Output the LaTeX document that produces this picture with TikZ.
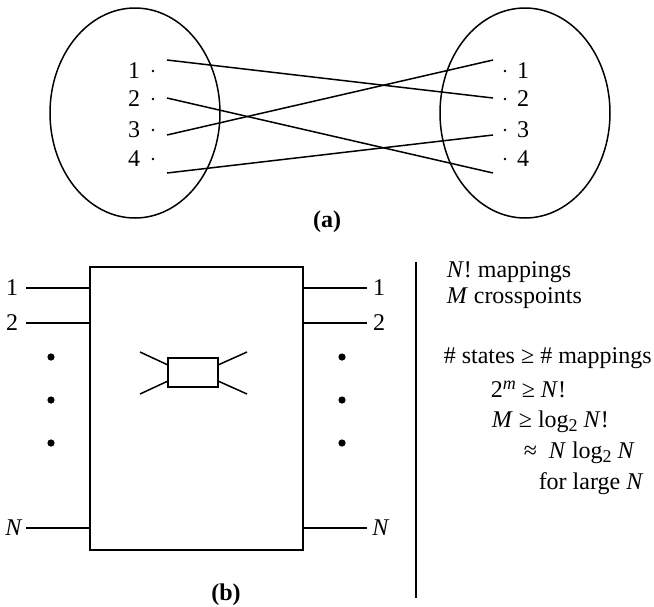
\documentclass[tikz,border=0pt]{standalone}
\usepackage{fontspec}
\setmainfont{Liberation Serif}
\usetikzlibrary{shapes.geometric}

\newcommand{\lowtwo}{\raisebox{-0.45ex}{\fontsize{9}{10}\selectfont 2}}
\newcommand{\highm}{\raisebox{0.7ex}{\fontsize{9}{10}\selectfont\textit{m}}}

\begin{document}
\begin{tikzpicture}[
    x=0.5pt, y=-0.5pt,
    line width=0.75pt,
    font=\fontsize{12}{14}\selectfont,
    setoval/.style={draw,ellipse,inner sep=0pt,minimum width=85pt,minimum height=105pt},
    pdot/.style={circle,fill,inner sep=0pt,minimum size=1.4pt},
    bigdot/.style={circle,fill,inner sep=0pt,minimum size=3.6pt},
    netbox/.style={draw,rectangle,inner sep=0pt,minimum width=106.5pt,minimum height=141.5pt},
    xpbox/.style={draw,rectangle,inner sep=0pt,minimum width=25pt,minimum height=14.5pt},
    lbl/.style={inner sep=0pt},
    eqn/.style={inner sep=0pt,anchor=base west},
    caption/.style={inner sep=0pt,font=\fontsize{12}{14}\selectfont\bfseries},
  ]
  \useasboundingbox (0,0) rectangle (654,606);

  % --- (a): two sets and a mapping ---
  \node[setoval] (src) at (135,113) {};
  \node[setoval] (dst) at (525,113) {};
  \foreach \i/\y in {1/71,2/99,3/130,4/159} {
    \node[lbl] (a\i) at (134,\y) {\i};
    \node[pdot] (ad\i) at (153,\y) {};
    \node[pdot] (bd\i) at (505,\y) {};
    \node[lbl] (b\i) at (523,\y) {\i};
  }
  \foreach \i/\y in {1/60,2/98,3/135,4/173} {
    \coordinate (p\i) at (167,\y);
    \coordinate (q\i) at (493,\y);
  }
  \draw (p1) -- (q2);
  \draw (p2) -- (q4);
  \draw (p3) -- (q1);
  \draw (p4) -- (q3);
  \node[caption] (capa) at (327,222) {(a)};

  % --- (b): N x N switch ---
  \node[netbox] (net) at (196.5,408.5) {};
  \foreach \n/\y in {1/288,2/323,N/528} {
    \coordinate (in\n) at (26,\y);
    \coordinate (out\n) at (367,\y);
    \draw (in\n) -- (in\n -| net.west);
    \draw (out\n -| net.east) -- (out\n);
  }
  \node[lbl] (li1) at (12,288) {1};
  \node[lbl] (li2) at (12,323) {2};
  \node[lbl] (liN) at (14,528) {\textit{N}};
  \node[lbl] (lo1) at (379,288) {1};
  \node[lbl] (lo2) at (379,323) {2};
  \node[lbl] (loN) at (381,528) {\textit{N}};
  \foreach \y in {357,400,443} {
    \node[bigdot] at (51,\y) {};
    \node[bigdot] at (342,\y) {};
  }

  % --- crosspoint symbol ---
  \node[xpbox] (xp) at (193,372.5) {};
  \coordinate (x1) at (140,352);
  \coordinate (x2) at (140,394);
  \coordinate (x3) at (247,352);
  \coordinate (x4) at (247,394);
  \coordinate (xl1) at (168,365);
  \coordinate (xl2) at (168,381);
  \coordinate (xr1) at (218,365);
  \coordinate (xr2) at (218,381);
  \draw (x1) -- (xl1);
  \draw (x2) -- (xl2);
  \draw (xr1) -- (x3);
  \draw (xr2) -- (x4);
  \node[caption] (capb) at (226,595) {(b)};

  % --- counting argument ---
  \coordinate (rt) at (416,262);
  \coordinate (rb) at (416,598);
  \draw (rt) -- (rb);
  \node[eqn] (e1) at (446,277) {\textit{N}! mappings};
  \node[eqn] (e2) at (446,303) {\textit{M} crosspoints};
  \node[eqn] (e3) at (443,363) {\# states ≥ \# mappings};
  \node[eqn] (e4) at (490,397) {2\highm\ ≥ \textit{N}!};
  \node[eqn] (e5) at (491,427) {\textit{M} ≥ log\lowtwo\ \textit{N}!};
  \node[eqn] (e6) at (523,458) {≈~ \textit{N} log\lowtwo\ \textit{N}};
  \node[eqn] (e7) at (538,489) {for large \textit{N}};

\end{tikzpicture}
\end{document}
